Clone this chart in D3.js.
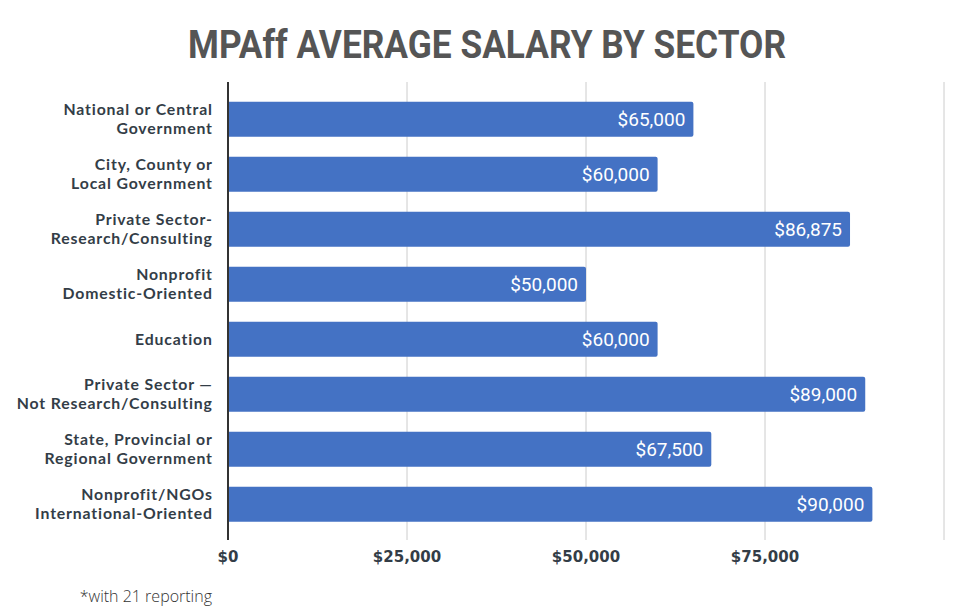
<!DOCTYPE html>
<html>
<head>
<meta charset="utf-8">
<script src="https://cdn.jsdelivr.net/npm/d3@7"></script>
<style>
  body { margin: 0; background: #fff; }
</style>
</head>
<body>
<div id="chart"></div>
<script>
// sectors, top to bottom
const sectors = [
    ["National or Central", "Government"],
    ["City, County or", "Local Government"],
    ["Private Sector-", "Research/Consulting"],
    ["Nonprofit", "Domestic-Oriented"],
    ["Education"],
    ["Private Sector \u2014", "Not Research/Consulting"],
    ["State, Provincial or", "Regional Government"],
    ["Nonprofit/NGOs", "International-Oriented"]
];
const salaries = [65000, 60000, 86875, 50000, 60000, 89000, 67500, 90000];
const tickValues = [0, 25000, 50000, 75000];
const gridValues = [25000, 50000, 75000, 100000];

const width = 974, height = 606;
const margin = { top: 82, right: 30, bottom: 66, left: 228 };

const svg = d3.select("#chart")
    .append("svg")
    .attr("width", width)
    .attr("height", height);

// title
svg.append("text")
    .attr("x", 487)
    .attr("y", 58)
    .attr("text-anchor", "middle")
    .attr("font-family", "Roboto")
    .attr("font-weight", 700)
    .attr("font-size", 38)
    .attr("fill", "#555555")
    .attr("textLength", 598)
    .attr("lengthAdjust", "spacingAndGlyphs")
    .text("MPAff AVERAGE SALARY BY SECTOR");

const x = d3.scaleLinear()
    .domain([0, 100000])
    .range([margin.left, 944]);

const y = d3.scaleBand()
    .domain(d3.range(sectors.length))
    .range([91.7, 531.7])
    .paddingInner(0.364)
    .paddingOuter(0.182);

const plotBottom = height - margin.bottom;

// gridlines
svg.append("g")
    .selectAll("line")
    .data(gridValues)
    .join("line")
    .attr("x1", d => x(d))
    .attr("x2", d => x(d))
    .attr("y1", margin.top)
    .attr("y2", plotBottom)
    .attr("stroke", "#cccccc")
    .attr("stroke-width", 1);

// bars
svg.append("g")
    .selectAll("path")
    .data(salaries)
    .join("path")
    .attr("fill", "#4472c4")
    .attr("d", (d, i) => {
        const x0 = x(0), x1 = x(d), y0 = y(i), h = y.bandwidth(), r = 2;
        return `M${x0},${y0}H${x1 - r}Q${x1},${y0} ${x1},${y0 + r}V${y0 + h - r}Q${x1},${y0 + h} ${x1 - r},${y0 + h}H${x0}Z`;
    });

// value labels
svg.append("g")
    .selectAll("text")
    .data(salaries)
    .join("text")
    .attr("x", d => x(d) - 8)
    .attr("y", (d, i) => y(i) + y.bandwidth() / 2)
    .attr("dy", "0.36em")
    .attr("text-anchor", "end")
    .attr("font-family", "Roboto")
    .attr("font-size", 19)
    .attr("fill", "#ffffff")
    .text(d => d3.format("$,")(d));

// zero axis line
svg.append("line")
    .attr("x1", x(0))
    .attr("x2", x(0))
    .attr("y1", margin.top)
    .attr("y2", plotBottom)
    .attr("stroke", "#333333")
    .attr("stroke-width", 2);

// category labels
const cats = svg.append("g")
    .selectAll("text")
    .data(sectors)
    .join("text")
    .attr("text-anchor", "end")
    .attr("font-family", "Lato")
    .attr("font-weight", 700)
    .attr("font-size", 15.8)
    .attr("letter-spacing", 0.85)
    .attr("fill", "#333d47")
    .attr("transform", (d, i) => `translate(212.8,${y(i) + y.bandwidth() / 2})`);

cats.selectAll("tspan")
    .data(d => d.map((t, j) => ({ t, j, n: d.length })))
    .join("tspan")
    .attr("x", 0)
    .attr("y", d => (d.j - (d.n - 1) / 2) * 19)
    .attr("dy", "0.36em")
    .text(d => d.t);

// x tick labels
svg.append("g")
    .selectAll("text")
    .data(tickValues)
    .join("text")
    .attr("x", d => x(d))
    .attr("y", 561.5)
    .attr("text-anchor", "middle")
    .attr("font-family", "DejaVu Sans")
    .attr("font-weight", 700)
    .attr("font-size", 15)
    .attr("fill", "#333d47")
    .text(d => d3.format("$,")(d));

// footnote
svg.append("text")
    .attr("x", 212)
    .attr("y", 602)
    .attr("text-anchor", "end")
    .attr("font-family", "Open Sans")
    .attr("font-weight", 300)
    .attr("font-size", 16)
    .attr("fill", "#333333")
    .text("*with 21 reporting");
</script>
</body>
</html>
